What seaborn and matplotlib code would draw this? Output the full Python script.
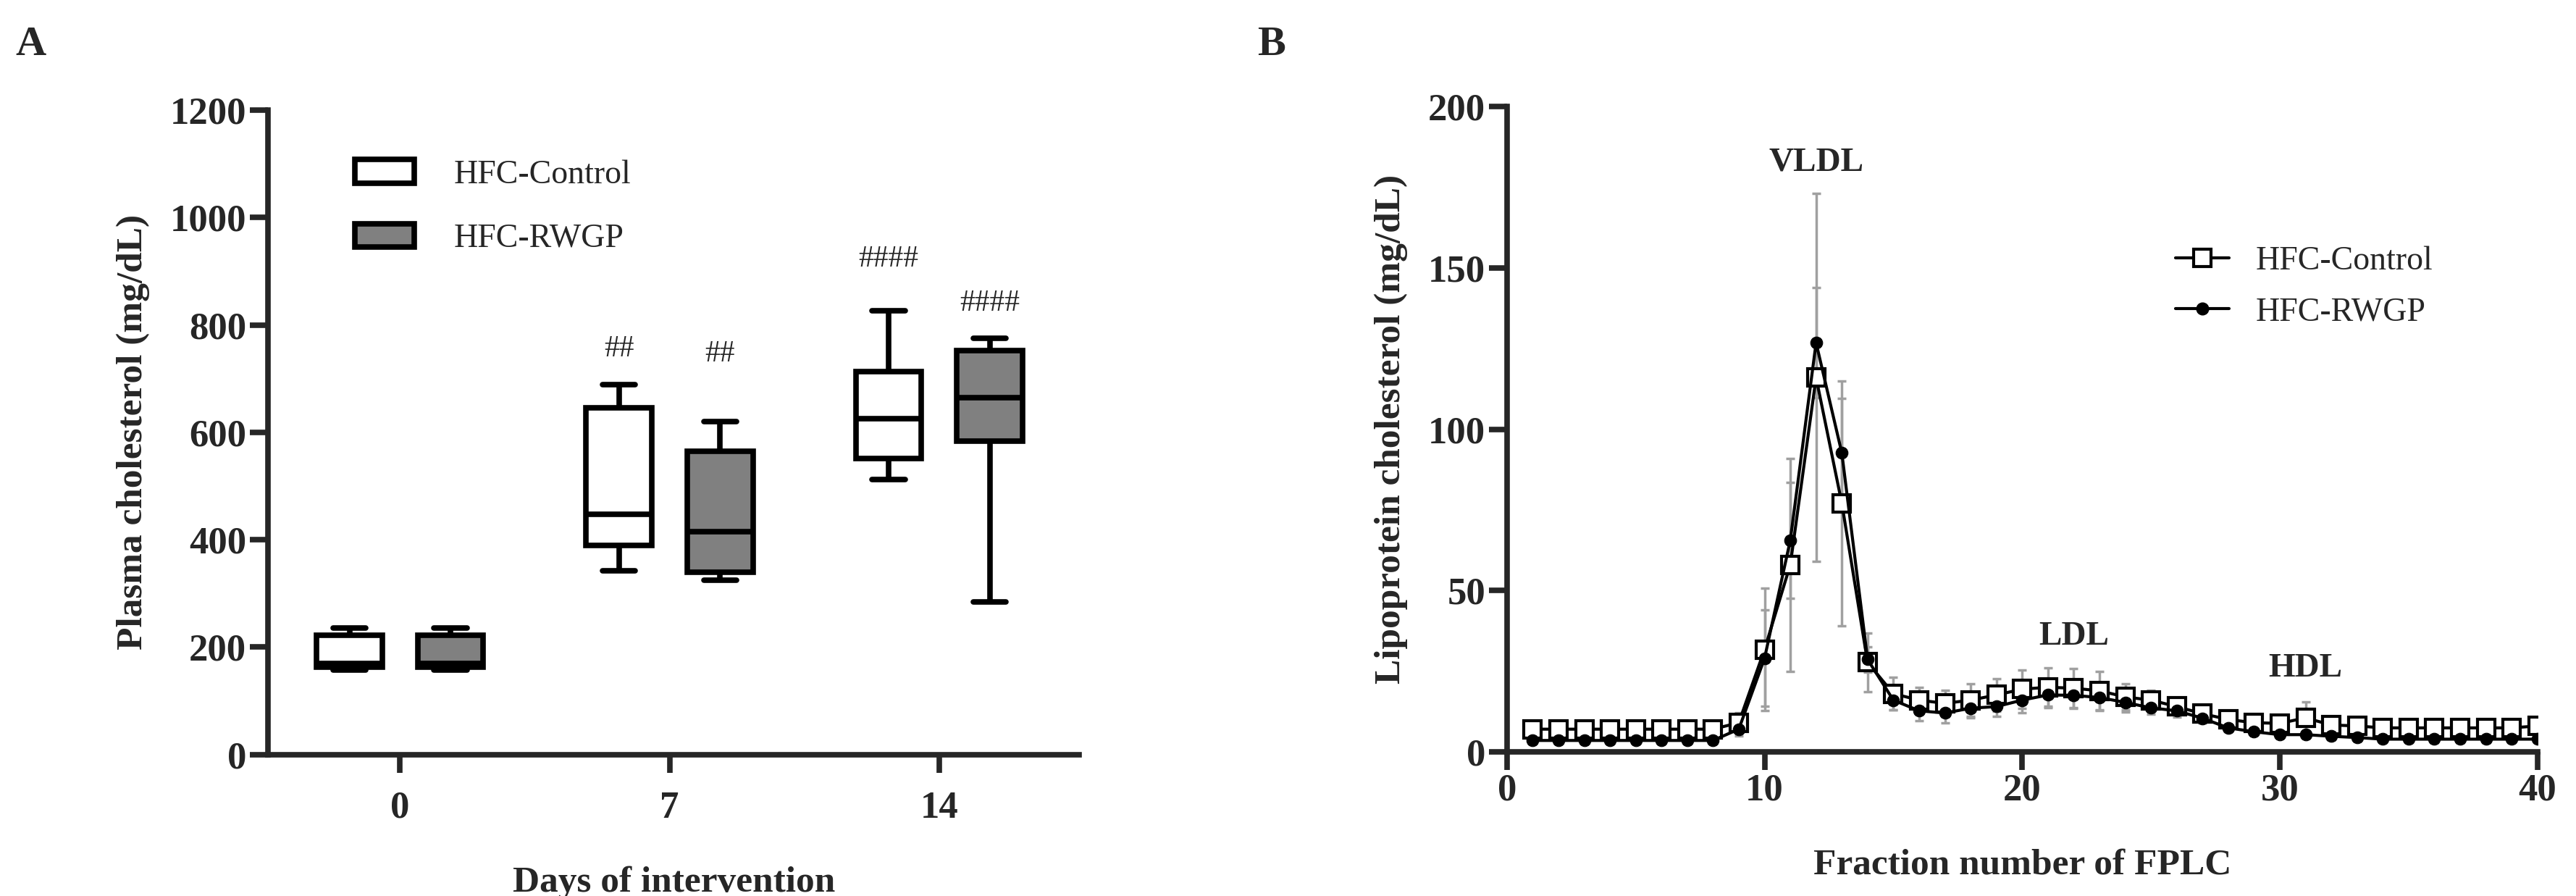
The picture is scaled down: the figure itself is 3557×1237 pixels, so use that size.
import numpy as np
import pandas as pd
import matplotlib
matplotlib.use("Agg")
import matplotlib.pyplot as plt
import seaborn as sns
from matplotlib.patches import Patch
from matplotlib.lines import Line2D

days = ["0", "7", "14"]
groups = ["HFC-Control", "HFC-RWGP"]
# five-number summaries (min, q1, median, q3, max) per day
ctrl_box = {"0": [157, 162, 169, 222, 235], "7": [342, 389, 447, 646, 689], "14": [512, 551, 625, 713, 826]}
rwgp_box = {"0": [157, 162, 170, 222, 235], "7": [325, 339, 415, 565, 620], "14": [284, 583, 664, 752, 775]}
sig_marks = {"7": ["##", "##"], "14": ["####", "####"]}

fractions = list(range(1, 41))
ctrl_mean = [7, 7, 7, 7, 7, 7, 7, 7, 9, 31.7, 58, 116, 77, 27.7, 18, 16, 15, 16, 17.6, 19.4,
             20, 19.7, 18.9, 17, 16, 14, 11.8, 10, 9, 8.8, 10.5, 8.3, 8, 7.4, 7.4, 7.4, 7.4, 7.4, 7.4, 8]
ctrl_sd = [1, 1, 1, 1, 1, 1, 1, 1, 3, 19, 33, 57, 38, 9, 5, 4, 4, 5, 5, 6,
           6, 6, 6, 4, 3, 2, 2, 1.5, 1.5, 1.5, 5, 1, 1, 1, 1, 1, 1, 1, 1, 1]
rwgp_mean = [3.5, 3.5, 3.5, 3.5, 3.5, 3.5, 3.5, 3.5, 7, 29, 65.6, 126.8, 92.6, 28.6, 16, 12.7, 12, 13.5, 14, 16,
             17.6, 17.5, 16.8, 15.3, 13.6, 12.7, 10.4, 7.4, 6.2, 5.3, 5.3, 4.8, 4.4, 3.9, 3.9, 3.9, 3.9, 3.9, 3.9, 3.9]
rwgp_sd = [0.5, 0.5, 0.5, 0.5, 0.5, 0.5, 0.5, 0.5, 2, 15, 18, 17, 17, 4, 3, 3, 3, 3, 3, 4,
           4, 4, 4, 3, 2, 2, 1.5, 1, 1, 1, 1, 1, 1, 1, 1, 1, 1, 1, 1, 1]
peak_labels = [("VLDL", 12, 178), ("LDL", 22, 31), ("HDL", 31, 21)]

sns.set_style("ticks")
plt.rcParams['font.family'] = ['Liberation Serif', 'DejaVu Serif']
LW = 5.5
TICK = 38
LAB = 37
LEG = 33

fig = plt.figure(figsize=(35.57, 12.37), dpi=100)
axA = fig.add_axes([0.104, 0.158, 0.315, 0.719])
axB = fig.add_axes([0.585, 0.161, 0.400, 0.720])

rows = []
for d in days:
    for v in ctrl_box[d]:
        rows.append((d, groups[0], v))
    for v in rwgp_box[d]:
        rows.append((d, groups[1], v))
df = pd.DataFrame(rows, columns=["day", "group", "chol"])

sns.boxplot(data=df, x="day", y="chol", hue="group", order=days, hue_order=groups,
            palette={groups[0]: "white", groups[1]: "#808080"}, whis=np.inf, width=0.75, gap=0.35,
            linewidth=LW, linecolor="black", ax=axA, legend=False)
axA.set_ylim(0, 1200)
axA.set_xlim(-0.49, 2.52)
axA.set_yticks(range(0, 1201, 200))
for i, d in enumerate(days):
    if d in sig_marks:
        for j, (box, m) in enumerate(zip([ctrl_box[d], rwgp_box[d]], sig_marks[d])):
            axA.text(i + (-0.1875 if j == 0 else 0.1875), box[4] + 40 + (30 if (d == "14" and j == 0) else 0) + (60 if d == "7" and j == 1 else 0),
                     m, ha="center", va="bottom", fontsize=30)
axA.set_xlabel("Days of intervention", fontsize=LAB, fontweight="bold", labelpad=40)
axA.set_ylabel("Plasma cholesterol (mg/dL)", fontsize=LAB, fontweight="bold", labelpad=20)
handles = [Patch(facecolor="white", edgecolor="black", linewidth=LW),
           Patch(facecolor="#808080", edgecolor="black", linewidth=LW)]
axA.legend(handles, groups, loc="upper left", bbox_to_anchor=(0.07, 0.97), frameon=False,
           fontsize=LEG, handlelength=1.8, handleheight=0.7, labelspacing=1.0, handletextpad=1.2)

# Panel B
lines = pd.DataFrame({"fraction": fractions * 2,
                      "chol": ctrl_mean + rwgp_mean,
                      "group": [groups[0]] * 40 + [groups[1]] * 40})
axB.errorbar(fractions, ctrl_mean, yerr=ctrl_sd, fmt="none", ecolor="#a0a0a0", elinewidth=2.5, capsize=4, capthick=2.5, zorder=1)
axB.errorbar(fractions, rwgp_mean, yerr=rwgp_sd, fmt="none", ecolor="#a0a0a0", elinewidth=2.5, capsize=4, capthick=2.5, zorder=1)
sns.lineplot(data=lines, x="fraction", y="chol", hue="group", style="group", hue_order=groups,
             palette={groups[0]: "black", groups[1]: "black"}, markers={groups[0]: "s", groups[1]: "o"},
             dashes=False, linewidth=3, markersize=17, ax=axB, legend=False, zorder=3)
for l in axB.lines:
    if l.get_marker() == "s":
        l.set_markerfacecolor("white"); l.set_markeredgecolor("black"); l.set_markeredgewidth(3)
    elif l.get_marker() == "o":
        l.set_markerfacecolor("black"); l.set_markeredgecolor("black"); l.set_markersize(12)
axB.set_xlim(0, 40)
axB.set_ylim(0, 200)
axB.set_xticks(range(0, 41, 10))
axB.set_yticks(range(0, 201, 50))
for txt, x, y in peak_labels:
    axB.text(x, y, txt, ha="center", va="bottom", fontsize=34, fontweight="bold")
axB.set_xlabel("Fraction number of FPLC", fontsize=LAB, fontweight="bold", labelpad=40)
axB.set_ylabel("Lipoprotein cholesterol (mg/dL)", fontsize=LAB, fontweight="bold", labelpad=20)
hB = [Line2D([], [], color="black", marker="s", markerfacecolor="white", markersize=17, markeredgewidth=3, linewidth=3),
      Line2D([], [], color="black", marker="o", markersize=12, linewidth=3)]
axB.legend(hB, groups, loc="upper left", bbox_to_anchor=(0.62, 0.83), frameon=False,
           fontsize=LEG, handlelength=1.6, labelspacing=0.6)

for ax in (axA, axB):
    sns.despine(ax=ax)
    for s in ("left", "bottom"):
        ax.spines[s].set_linewidth(LW)
    ax.tick_params(width=LW, length=18, labelsize=TICK)
    for t in ax.get_xticklabels() + ax.get_yticklabels():
        t.set_fontweight("bold")
axA.tick_params(axis="x", pad=18)

fig.text(0.006, 0.95, "A", fontsize=42, fontweight="bold", va="center")
fig.text(0.488, 0.95, "B", fontsize=42, fontweight="bold", va="center")
fig.savefig("out.png", dpi=100, facecolor="white")
